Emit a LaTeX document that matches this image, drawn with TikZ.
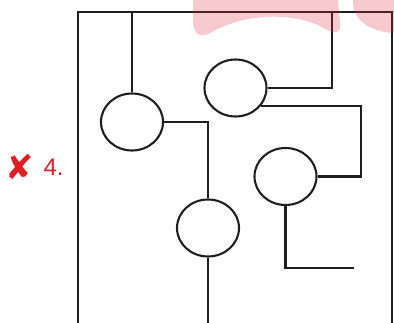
\documentclass[tikz,border=0pt]{standalone}
\usepackage{fontspec}
\setmainfont{Liberation Sans}
\newfontfamily\markfont{DejaVu Sans}
\usepackage{tikz}
\usetikzlibrary{shapes.geometric, positioning}
\definecolor{wireblack}{RGB}{30, 30, 30}
\definecolor{markred}{RGB}{225, 30, 35}
\definecolor{wmpink}{RGB}{220, 40, 60}
\tikzset{
  cell/.style={draw=wireblack, ellipse, line width=2.1pt, minimum width=62pt, minimum height=57pt, inner sep=0pt},
  wire/.style={draw=wireblack, line width=2.1pt},
  frame/.style={draw=wireblack, line width=2.3pt},
  marktext/.style={text=markred, inner sep=0pt}
}

\begin{document}
\begin{tikzpicture}[x=1pt, y=-1pt]
    \useasboundingbox (0,0) rectangle (394,323);

    % box
    \draw[frame] (77.7,323) |- (391.7,11.7) -- (391.7,323);

    % the four round cells
    \node (cA) [cell] at (132,122) {};
    \node (cB) [cell] at (235.5,88) {};
    \node (cC) [cell] at (285.5,176.5) {};
    \node (cD) [cell] at (208,228) {};

    \coordinate (topA) at (132,11.7);
    \coordinate (topB) at (331.7,11.7);
    \coordinate (bendBC) at (360.7,176.5);
    \coordinate (endC) at (354,268.3);
    \coordinate (endD) at (208,323);

    \draw[wire] (cA.north) -- (topA);
    \draw[wire] (cA.east) -| (cD.north);
    \draw[wire] (cB.east) -| (topB);
    \draw[wire] (cB.-35) -| (bendBC) -- (cC.east);
    \draw[wire] (cC.south) |- (endC);
    \draw[wire] (cD.south) -- (endD);

    % label
    \node (cross) [marktext, font=\markfont\fontsize{34}{34}\selectfont] at (20,167) {✘};
    \node (num) [marktext, font=\fontsize{24}{24}\selectfont, right=9pt of cross] {4.};

    % faint watermark
    \fill[wmpink, opacity=0.25] (193,0) -- (193,24) .. controls (195,38) and (204,37) .. (214,31)
        .. controls (245,14) and (290,12) .. (320,26) .. controls (332,34) and (342,36) .. (340,22) -- (338,0) -- cycle;
    \fill[wmpink, opacity=0.25] (353,0) .. controls (352,20) and (370,32) .. (394,33) -- (394,0) -- cycle;
\end{tikzpicture}
\end{document}
